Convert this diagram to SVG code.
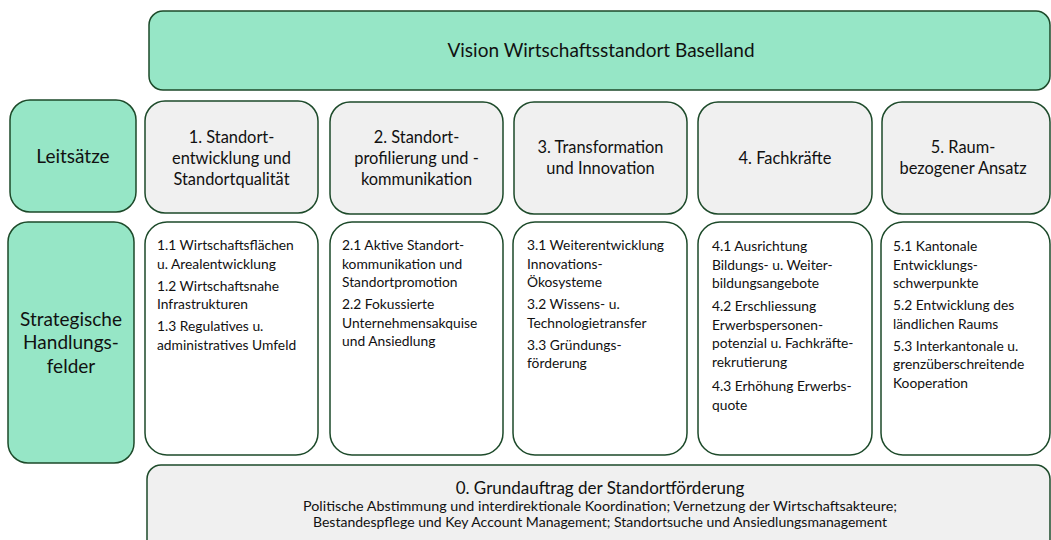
<svg xmlns="http://www.w3.org/2000/svg" width="1051" height="540" viewBox="0 0 1051 540">
<style>
.g{fill:#96e6c6;stroke:#1d4a2a;stroke-width:1.5}
.h{fill:#f0f0f0;stroke:#1d4a2a;stroke-width:1.5}
.w{fill:#ffffff;stroke:#1d4a2a;stroke-width:1.5}
text{font-family:Lato,"Open Sans","Liberation Sans",sans-serif;fill:#111}
.t1{font-size:19px;text-anchor:middle}
.t2{font-size:16.4px;text-anchor:middle}
.t3{font-size:13.8px}
.t4{font-size:17px;text-anchor:middle}
.t5{font-size:13px;text-anchor:middle}
</style>
<g id="vision"><rect class="g" x="149" y="11" width="901" height="79" rx="14"/><text class="t1" x="601" y="57">Vision Wirtschaftsstandort Baselland</text></g>
<g id="leitsaetze"><rect class="g" x="10" y="100" width="126" height="112" rx="20"/><text class="t1" x="73" y="163">Leitsätze</text></g>
<g id="ls1"><rect class="h" x="145" y="101" width="173" height="112" rx="20"/><text class="t2" x="231.5" y="143">1. Standort-</text><text class="t2" x="231.5" y="164">entwicklung und</text><text class="t2" x="231.5" y="185">Standortqualität</text></g>
<g id="ls2"><rect class="h" x="330" y="102" width="173" height="112" rx="20"/><text class="t2" x="416.5" y="143">2. Standort-</text><text class="t2" x="416.5" y="164">profilierung und -</text><text class="t2" x="416.5" y="185">kommunikation</text></g>
<g id="ls3"><rect class="h" x="514" y="102" width="173" height="112" rx="20"/><text class="t2" x="600.5" y="153">3. Transformation</text><text class="t2" x="600.5" y="174">und Innovation</text></g>
<g id="ls4"><rect class="h" x="698" y="102" width="174" height="112" rx="20"/><text class="t2" x="785" y="164">4. Fachkräfte</text></g>
<g id="ls5"><rect class="h" x="882" y="102" width="168" height="112" rx="20"/><text class="t2" x="963" y="153">5. Raum-</text><text class="t2" x="963" y="174">bezogener Ansatz</text></g>
<g id="strategisch"><rect class="g" x="8" y="222" width="126" height="241" rx="20"/><text class="t1" x="71" y="326">Strategische</text><text class="t1" x="71" y="349">Handlungs-</text><text class="t1" x="71" y="373">felder</text></g>
<g id="hf1"><rect class="w" x="145" y="222" width="173" height="233" rx="22"/>
<text class="t3" x="157"><tspan x="157" y="250">1.1 Wirtschaftsflächen</tspan><tspan x="157" y="268.5">u. Arealentwicklung</tspan><tspan x="157" y="290.5">1.2 Wirtschaftsnahe</tspan><tspan x="157" y="309">Infrastrukturen</tspan><tspan x="157" y="331">1.3 Regulatives u.</tspan><tspan x="157" y="349.5">administratives Umfeld</tspan></text></g>
<g id="hf2"><rect class="w" x="330" y="222" width="173" height="233" rx="22"/>
<text class="t3" x="342"><tspan x="342" y="250">2.1 Aktive Standort-</tspan><tspan x="342" y="268.5">kommunikation und</tspan><tspan x="342" y="287">Standortpromotion</tspan><tspan x="342" y="309">2.2 Fokussierte</tspan><tspan x="342" y="327.5">Unternehmensakquise</tspan><tspan x="342" y="346">und Ansiedlung</tspan></text></g>
<g id="hf3"><rect class="w" x="513" y="222" width="174" height="233" rx="22"/>
<text class="t3" x="527"><tspan x="527" y="250">3.1 Weiterentwicklung</tspan><tspan x="527" y="268.5">Innovations-</tspan><tspan x="527" y="287">Ökosysteme</tspan><tspan x="527" y="309">3.2 Wissens- u.</tspan><tspan x="527" y="327.5">Technologietransfer</tspan><tspan x="527" y="349.5">3.3 Gründungs-</tspan><tspan x="527" y="368">förderung</tspan></text></g>
<g id="hf4"><rect class="w" x="698" y="222" width="174" height="233" rx="22"/>
<text class="t3" x="712"><tspan x="712" y="251">4.1 Ausrichtung</tspan><tspan x="712" y="269.5">Bildungs- u. Weiter-</tspan><tspan x="712" y="288">bildungsangebote</tspan><tspan x="712" y="311">4.2 Erschliessung</tspan><tspan x="712" y="329.5">Erwerbspersonen-</tspan><tspan x="712" y="348">potenzial u. Fachkräfte-</tspan><tspan x="712" y="366.5">rekrutierung</tspan><tspan x="712" y="391">4.3 Erhöhung Erwerbs-</tspan><tspan x="712" y="409.5">quote</tspan></text></g>
<g id="hf5"><rect class="w" x="881" y="222" width="169" height="233" rx="22"/>
<text class="t3" x="893"><tspan x="893" y="251">5.1 Kantonale</tspan><tspan x="893" y="269.5">Entwicklungs-</tspan><tspan x="893" y="288">schwerpunkte</tspan><tspan x="893" y="310">5.2 Entwicklung des</tspan><tspan x="893" y="328.5">ländlichen Raums</tspan><tspan x="893" y="350.5">5.3 Interkantonale u.</tspan><tspan x="893" y="369">grenzüberschreitende</tspan><tspan x="893" y="387.5">Kooperation</tspan></text></g>
<g id="grundauftrag"><rect class="h" x="147" y="465" width="903" height="90" rx="14"/>
<text class="t4" x="600" y="494">0. Grundauftrag der Standortförderung</text>
<text class="t5" x="600" y="510.5" textLength="594" lengthAdjust="spacingAndGlyphs">Politische Abstimmung und interdirektionale Koordination; Vernetzung der Wirtschaftsakteure;</text>
<text class="t5" x="600" y="527" textLength="574" lengthAdjust="spacingAndGlyphs">Bestandespflege und Key Account Management; Standortsuche und Ansiedlungsmanagement</text></g>
<g id="connectors"></g>
</svg>
